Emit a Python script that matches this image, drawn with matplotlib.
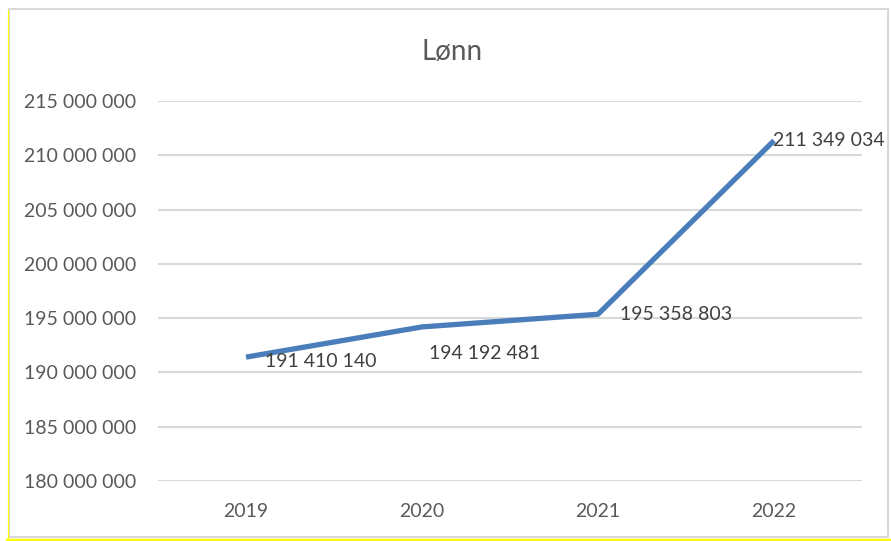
import matplotlib
matplotlib.use("Agg")
import matplotlib.pyplot as plt
from matplotlib.lines import Line2D
from matplotlib.patches import Rectangle

# data
years = ["2019", "2020", "2021", "2022"]
lonn = [191410140, 194192481, 195358803, 211349034]
y_ticks = [180000000, 185000000, 190000000, 195000000, 200000000,
           205000000, 210000000, 215000000]

# label offsets (points) as placed in the original chart
label_offsets = [(14, -3), (5, -19), (16, 0), (-1, 0)]

def fmt(v):
    return "{:,}".format(int(v)).replace(",", " ")

plt.rcParams['font.family'] = ['Lato', 'DejaVu Sans']
text_col = "#595959"

fig = plt.figure(figsize=(8.91, 5.41), dpi=100)
ax = fig.add_axes([158 / 891, 1 - 481 / 541, 704 / 891, 380 / 541])

x = list(range(len(years)))
ax.plot(x, lonn, color="#4A7EBB", lw=3.8, solid_capstyle="butt", zorder=3)

for xi, v, off in zip(x, lonn, label_offsets):
    ax.annotate(fmt(v), (xi, v), xytext=off, textcoords="offset points",
                ha="left", va="center", fontsize=14, color="#404040", zorder=4)

ax.set_xlim(-0.5, len(years) - 0.5)
ax.set_ylim(y_ticks[0], y_ticks[-1])
ax.set_xticks(x)
ax.set_xticklabels(years)
ax.set_yticks(y_ticks)
ax.set_yticklabels([fmt(t) for t in y_ticks])
ax.tick_params(axis="both", length=0, labelsize=14, colors=text_col)
ax.tick_params(axis="y", pad=16)
ax.tick_params(axis="x", pad=16)
ax.grid(axis="y", color="#D9D9D9", lw=1.5)
ax.set_axisbelow(True)
for s in ax.spines.values():
    s.set_visible(False)

fig.text(452 / 891, 1 - 52 / 541, "Lønn", ha="center", va="center",
         fontsize=20, color=text_col)

# chart frame and yellow edge
fig.add_artist(Rectangle((9 / 891, 1 - 537 / 541), 879 / 891, 528 / 541,
                         transform=fig.transFigure, fill=False,
                         ec="#D9D9D9", lw=1.5))
fig.add_artist(Line2D([7.5 / 891, 7.5 / 891], [1 - 540 / 541, 1 - 10 / 541],
                      transform=fig.transFigure, color="#FFFF00", lw=0.8))
fig.add_artist(Line2D([7 / 891, 1], [1 - 539.5 / 541, 1 - 539.5 / 541],
                      transform=fig.transFigure, color="#FFFF00", lw=2.5))

fig.savefig("out.png", dpi=100)
